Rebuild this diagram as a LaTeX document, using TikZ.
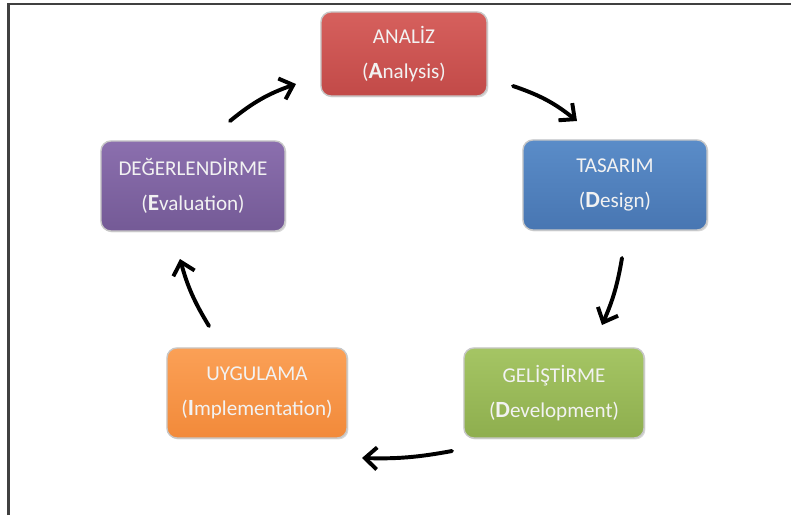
\documentclass[tikz,border=0pt]{standalone}
\usepackage{fontspec}
\setmainfont{Carlito}
\usepackage{tikz}
\usetikzlibrary{arrows.meta, shadows}

\definecolor{anlTop}{RGB}{214,96,93}
\definecolor{anlBot}{RGB}{194,74,72}
\definecolor{tasTop}{RGB}{90,140,200}
\definecolor{tasBot}{RGB}{72,118,178}
\definecolor{gelTop}{RGB}{165,197,100}
\definecolor{gelBot}{RGB}{142,174,78}
\definecolor{uygTop}{RGB}{251,160,86}
\definecolor{uygBot}{RGB}{242,138,58}
\definecolor{degTop}{RGB}{139,111,174}
\definecolor{degBot}{RGB}{116,90,150}

\newcommand{\ini}[1]{{\fontsize{16.5}{25}\selectfont\textbf{#1}}}

\begin{document}
\begin{tikzpicture}[
  x=0.025cm, y=-0.025cm,
  box/.style={rectangle, draw=black!22, line width=1pt, rounded corners=7pt,
             minimum width=4.6cm, minimum height=2.25cm, align=center,
             inner sep=4pt, text=white!95!black,
             font=\fontsize{15}{25}\selectfont,
             drop shadow={opacity=0.3, shadow xshift=1pt, shadow yshift=-1pt}},
  anlbox/.style={box, top color=anlTop, bottom color=anlBot,
             minimum width=4.15cm, minimum height=2.1cm},
  tasbox/.style={box, top color=tasTop, bottom color=tasBot},
  gelbox/.style={box, top color=gelTop, bottom color=gelBot, minimum width=4.5cm},
  uygbox/.style={box, top color=uygTop, bottom color=uygBot, minimum width=4.5cm},
  degbox/.style={box, top color=degTop, bottom color=degBot},
  arrow/.style={-{Straight Barb[length=3mm, width=5.5mm]}, line width=2.8pt,
             line cap=round, color=black, bend left=10}
]
\useasboundingbox (0,0) rectangle (791,515);
\draw[line width=1.6pt, black!75] (8.5,515) -- (8.5,4) -- (791,4);

\node[anlbox] (anl) at (404,54) {ANALİZ\\(\ini{A}nalysis)};
\node[tasbox] (tas) at (615,185) {TASARIM\\(\ini{D}esign)};
\node[gelbox] (gel) at (554,393) {GELİŞTİRME\\(\ini{D}evelopment)};
\node[uygbox] (uyg) at (257,393) {UYGULAMA\\(\ini{I}mplementation)};
\node[degbox] (deg) at (193,186) {DEĞERLENDİRME\\(\ini{E}valuation)};

% arrow end points
\coordinate (degOut) at (230,121);
\coordinate (anlIn)  at (296,84);
\coordinate (anlOut) at (513,86);
\coordinate (tasIn)  at (577,121);
\coordinate (tasOut) at (622,258);
\coordinate (gelIn)  at (602,325);
\coordinate (gelOut) at (452,451);
\coordinate (uygIn)  at (362,458);
\coordinate (uygOut) at (209,326);
\coordinate (degIn)  at (180,259);

\draw[arrow] (degOut) to (anlIn);
\draw[arrow] (anlOut) to (tasIn);
\draw[arrow, bend left=7] (tasOut) to (gelIn);
\draw[arrow, bend left=6] (gelOut) to (uygIn);
\draw[arrow, bend left=8] (uygOut) to (degIn);

\end{tikzpicture}
\end{document}
